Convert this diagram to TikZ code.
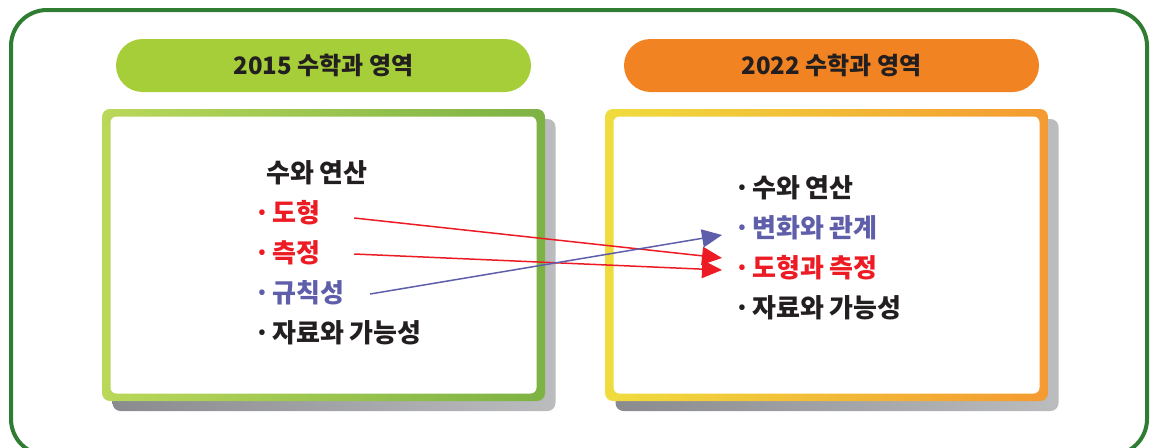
\documentclass[tikz,border=0pt]{standalone}
\usepackage{fontspec}
\setmainfont{Noto Sans CJK KR}
\usetikzlibrary{arrows.meta}
\definecolor{framegreen}{HTML}{2E7D32}
\definecolor{limepill}{HTML}{A6CE39}
\definecolor{orangepill}{HTML}{F28322}
\definecolor{limeleft}{HTML}{BAD85A}
\definecolor{limeright}{HTML}{7DB244}
\definecolor{yellowleft}{HTML}{F0DC3E}
\definecolor{orangeright}{HTML}{F49A31}
\definecolor{shadowleft}{HTML}{8A8B8F}
\definecolor{shadowright}{HTML}{BBBCBE}
\definecolor{itemred}{HTML}{ED1C24}
\definecolor{itempurple}{HTML}{5F5EAA}
\definecolor{itemblack}{HTML}{231F20}
\newcommand{\bul}{\makebox[0pt]{·}\kern10pt}

\begin{document}
\begin{tikzpicture}[x=1pt,y=-1pt,>={Triangle[length=20pt,width=18pt]},
  pill/.style={minimum width=415pt,minimum height=53pt,rounded corners=26.5pt,
    inner sep=0pt,text=itemblack,font=\bfseries\fontsize{24}{24}\selectfont},
  panel/.style={minimum width=443pt,minimum height=292pt,rounded corners=8pt,inner sep=0pt},
  panelshadow/.style={panel,left color=shadowleft,right color=shadowright},
  paper/.style={fill=white,minimum width=426pt,minimum height=277pt,rounded corners=6pt,inner sep=0pt},
  item/.style={anchor=west,inner sep=0pt,font=\bfseries\fontsize{26}{26}\selectfont},
  link/.style={line width=1.5pt,->}]
\useasboundingbox (0,0) rectangle (1150,447);
% outer frame
\draw[framegreen,line width=4pt,rounded corners=36pt] (11,10) rectangle (1147,455);
% titles
\node[pill,fill=limepill] (oldtitle) at (323.5,65.5) {2015 수학과 영역};
\node[pill,fill=orangepill] (newtitle) at (831.5,65.5) {2022 수학과 영역};
% panels with shadow
\node[panelshadow] at (334,265) {};
\node[panel,left color=limeleft,right color=limeright] (oldpanel) at (323.5,255) {};
\node[paper] at (oldpanel) {};
\node[panelshadow] at (837,265) {};
\node[panel,left color=yellowleft,right color=orangeright] (newpanel) at (826.5,255) {};
\node[paper] at (newpanel) {};
% 2015 areas
\node[item,text=itemblack] (oldnum) at (266,173) {수와 연산};
\node[item,text=itemred] (oldshape) at (262,213) {\bul 도형};
\node[item,text=itemred] (oldmeas) at (262,253) {\bul 측정};
\node[item,text=itempurple] (oldrule) at (262,293) {\bul 규칙성};
\node[item,text=itemblack] (olddata) at (262,333) {\bul 자료와 가능성};
% 2022 areas
\node[item,text=itemblack] (newnum) at (742,188) {\bul 수와 연산};
\node[item,text=itempurple] (newchange) at (742,228) {\bul 변화와 관계};
\node[item,text=itemred] (newgeo) at (742,268) {\bul 도형과 측정};
\node[item,text=itemblack] (newdata) at (742,308) {\bul 자료와 가능성};
% links
\draw[link,itemred] ([shift={(34,5)}]oldshape.east) -- ([shift={(-20,-10)}]newgeo.west);
\draw[link,itemred] ([shift={(34,1)}]oldmeas.east) -- ([shift={(-20,2)}]newgeo.west);
\draw[link,itempurple] ([shift={(26,1)}]oldrule.east) -- ([shift={(-20,7)}]newchange.west);
\end{tikzpicture}
\end{document}
